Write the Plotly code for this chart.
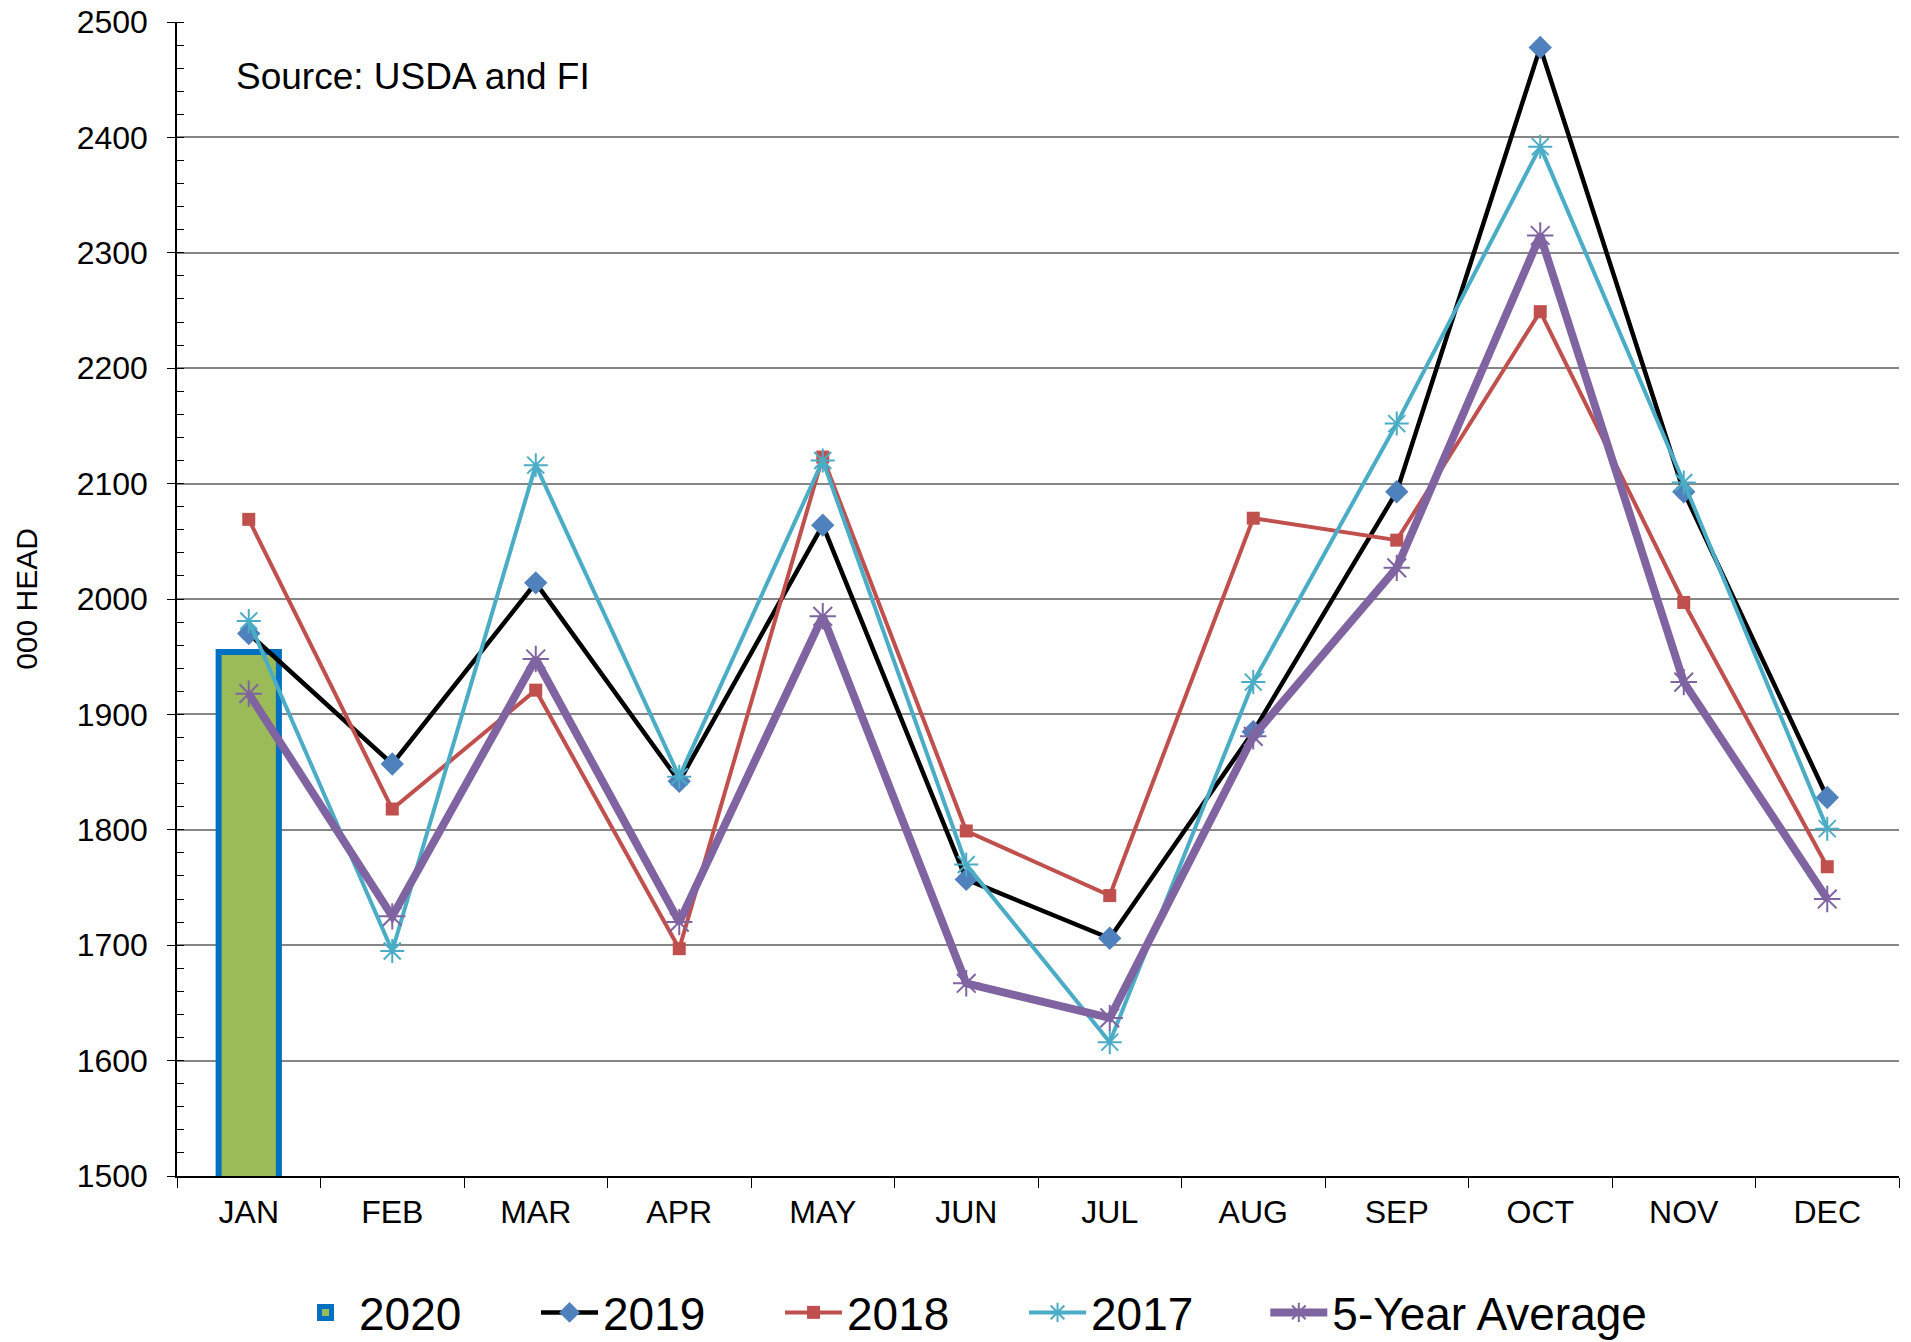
"""Monthly cattle placements chart: 2020 bar against prior years."""

import plotly.graph_objs as go

MONTHS = ["JAN", "FEB", "MAR", "APR", "MAY", "JUN", "JUL", "AUG", "SEP", "OCT", "NOV", "DEC"]

Y2020_MONTHS = ["JAN"]
Y2020 = [1954]
Y2019 = [1970, 1857, 2014, 1842, 2064, 1757, 1706, 1885, 2093, 2478, 2093, 1828]
Y2018 = [2069, 1818, 1921, 1697, 2123, 1799, 1743, 2070, 2051, 2249, 1997, 1768]
Y2017 = [1981, 1695, 2116, 1846, 2120, 1770, 1616, 1928, 2152, 2392, 2101, 1801]
AVG5 = [1918, 1725, 1948, 1720, 1985, 1667, 1637, 1881, 2027, 2315, 1928, 1740]

FONT = "Arial, Liberation Sans, sans-serif"

fig = go.Figure()

fig.add_trace(
    go.Bar(
        x=Y2020_MONTHS,
        y=Y2020,
        name="2020",
        width=0.42,
        marker={"color": "#9BBB59", "line": {"color": "#0070C0", "width": 6}},
        legend="legend",
    )
)

lines = [
    ("2019", Y2019, "#000000", 4.5, "diamond", "#4F81BD", 18, 0, "legend"),
    ("2018", Y2018, "#C0504D", 4, "square", "#C0504D", 13, 0, "legend"),
    ("2017", Y2017, "#4BACC6", 4, "asterisk-open", "#4BACC6", 20, 2, "legend"),
    ("5-Year Average", AVG5, "#8064A2", 8, "asterisk-open", "#8064A2", 22, 2, "legend2"),
]
for name, vals, lcolor, lwidth, symbol, mcolor, msize, mline, leg in lines:
    fig.add_trace(
        go.Scatter(
            x=MONTHS,
            y=vals,
            name=name,
            mode="lines+markers",
            line={"color": lcolor, "width": lwidth},
            marker={
                "symbol": symbol,
                "color": mcolor,
                "size": msize,
                "line": {"color": mcolor, "width": mline},
            },
            legend=leg,
        )
    )

fig.add_annotation(
    text="Source: USDA and FI",
    xref="paper",
    yref="paper",
    x=0.033,
    y=0.953,
    xanchor="left",
    yanchor="middle",
    showarrow=False,
    font={"family": FONT, "size": 37, "color": "#000000"},
)

legend_common = {
    "orientation": "h",
    "yref": "container",
    "yanchor": "middle",
    "y": 0.022,
    "font": {"size": 46},
    "itemwidth": 57,
    "bgcolor": "rgba(0,0,0,0)",
    "borderwidth": 0,
}

fig.update_layout(
    width=1911,
    height=1342,
    margin={"l": 177, "r": 12, "t": 22, "b": 166},
    paper_bgcolor="white",
    plot_bgcolor="white",
    font={"family": FONT, "size": 32, "color": "#000000"},
    showlegend=True,
    legend={**legend_common, "x": 0.0668, "xanchor": "left", "entrywidth": 172},
    legend2={**legend_common, "x": 0.632, "xanchor": "left"},
    xaxis={
        "type": "category",
        "categoryorder": "array",
        "categoryarray": MONTHS,
        "range": [-0.5, 11.5],
        "automargin": False,
        "showline": True,
        "linecolor": "#000000",
        "linewidth": 1.5,
        "ticks": "outside",
        "tickson": "boundaries",
        "ticklen": 10,
        "tickcolor": "#000000",
        "ticklabelstandoff": 7,
        "showgrid": False,
        "tickfont": {"size": 32},
    },
    yaxis={
        "range": [1500, 2500],
        "dtick": 100,
        "automargin": False,
        "showline": True,
        "linecolor": "#000000",
        "linewidth": 1.5,
        "ticks": "outside",
        "ticklen": 8,
        "tickcolor": "#000000",
        "ticklabelstandoff": 13,
        "showgrid": True,
        "gridcolor": "#868686",
        "gridwidth": 1.5,
        "zeroline": False,
        "minor": {"dtick": 20, "ticks": "inside", "ticklen": 7, "tickcolor": "#000000", "showgrid": False},
        "tickfont": {"size": 32},
        "title": {"text": "000 HEAD", "font": {"size": 30}, "standoff": 30},
    },
)

# drop the browser's default body margin so the figure sits at the page corner
fig.write_html(
    "out.html",
    config={"displayModeBar": False},
    post_script="document.body.style.margin = '0';",
)
